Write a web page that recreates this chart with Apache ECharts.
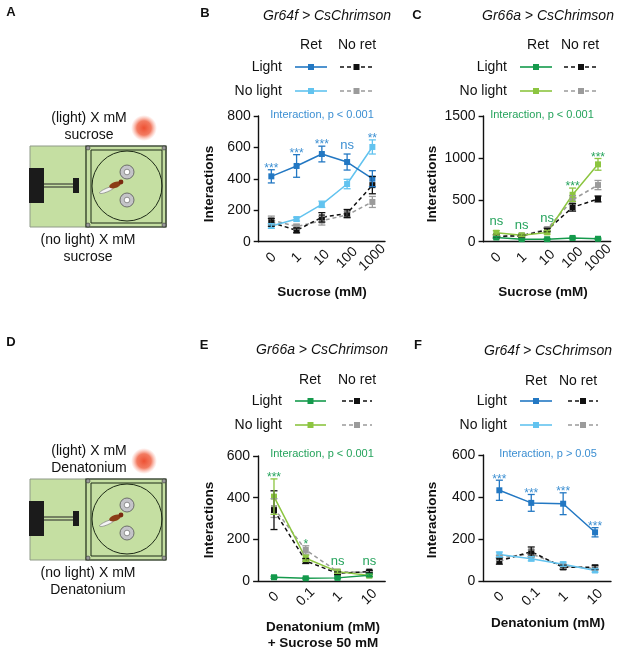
<!DOCTYPE html>
<html lang="en">
<head>
<meta charset="utf-8">
<title>CsChrimson interactions</title>
<script src="https://cdn.jsdelivr.net/npm/echarts@6/dist/echarts.min.js"></script>
<style>
  html, body { margin: 0; padding: 0; background: #fff; }
  #main { width: 617px; height: 653px; }
</style>
</head>
<body>
<div id="main"></div>
<script type="text/javascript">
// categories
var sucroseCats = ['0', '1', '10', '100', '1000'];
var denatCats = ['0', '0.1', '1', '10'];
var yTicksSucroseB = [0, 800, 200];
var yTicksSucroseC = [0, 1500, 500];
var yTicksDenat = [0, 600, 200];

// B: Gr64f > CsChrimson, sucrose
var bRetLight = [416, 482, 558, 507, 401];
var bRetLightErr = [42, 72, 50, 51, 51];
var bRetNoLight = [100, 144, 238, 367, 603];
var bRetNoLightErr = [15, 12, 20, 30, 45];
var bNoRetLight = [123, 72, 155, 180, 360];
var bNoRetLightErr = [25, 15, 30, 25, 55];
var bNoRetNoLight = [138, 96, 134, 170, 253];
var bNoRetNoLightErr = [25, 15, 28, 20, 35];
var bSig = ['***', '***', '***', 'ns', '**'];

// C: Gr66a > CsChrimson, sucrose
var cRetLight = [50, 30, 30, 45, 35];
var cRetLightErr = [10, 8, 8, 10, 8];
var cRetNoLight = [107, 76, 111, 560, 923];
var cRetNoLightErr = [25, 15, 20, 80, 70];
var cNoRetLight = [65, 70, 140, 410, 510];
var cNoRetLightErr = [20, 15, 20, 45, 35];
var cNoRetNoLight = [60, 72, 151, 500, 676];
var cNoRetNoLightErr = [15, 15, 20, 50, 55];
var cSig = ['ns', 'ns', 'ns', '***', '***'];

// E: Gr66a > CsChrimson, denatonium + sucrose
var eRetLight = [18, 13, 15, 28];
var eRetLightErr = [5, 4, 4, 6];
var eRetNoLight = [405, 109, 45, 26];
var eRetNoLightErr = [85, 15, 8, 6];
var eNoRetLight = [340, 96, 37, 45];
var eNoRetLightErr = [93, 12, 6, 6];
var eNoRetNoLight = [350, 149, 45, 40];
var eNoRetNoLightErr = [45, 20, 8, 6];
var eSig = ['***', '*', 'ns', 'ns'];

// F: Gr64f > CsChrimson, denatonium
var fRetLight = [432, 372, 368, 232];
var fRetLightErr = [48, 40, 52, 22];
var fRetNoLight = [126, 106, 80, 50];
var fRetNoLightErr = [12, 10, 10, 8];
var fNoRetLight = [95, 140, 65, 65];
var fNoRetLightErr = [15, 22, 10, 10];
var fNoRetNoLight = [110, 130, 70, 60];
var fNoRetNoLightErr = [12, 18, 10, 8];
var fSig = ['***', '***', '***', '***'];

var FONT = '"Liberation Sans", Arial, Helvetica, sans-serif';
var BLUE = '#2378c3', LBLUE = '#62c3ef', GREEN = '#159a4c', LGREEN = '#8cc540';
var GRAY = '#9b9b9b', BLACK = '#111';
var BLUE_TXT = '#3c8fd2', GREEN_TXT = '#25a35c';

var chart = echarts.init(document.getElementById('main'));

var grids = [
  { left: 258.7, top: 116, width: 126.3, height: 125.7 },
  { left: 483.6, top: 116, width: 127.1, height: 125.7 },
  { left: 258.1, top: 456, width: 127.1, height: 125 },
  { left: 483.4, top: 455, width: 127.6, height: 126 }
];

function xAxisFor(i, cats) {
  return {
    type: 'category', gridIndex: i, data: cats, boundaryGap: true,
    axisLine: { lineStyle: { color: '#111', width: 1.4 } },
    axisTick: { alignWithLabel: true, length: 5, lineStyle: { color: '#111', width: 1.4 } },
    axisLabel: { rotate: 45, fontSize: 14, color: '#111', fontFamily: FONT, margin: 16, interval: 0,
      align: 'center', verticalAlign: 'middle' },
    splitLine: { show: false }
  };
}
function yAxisFor(i, t) {
  return {
    type: 'value', gridIndex: i, min: t[0], max: t[1], interval: t[2],
    axisLine: { show: true, lineStyle: { color: '#111', width: 1.4 } },
    axisTick: { show: true, length: 5, lineStyle: { color: '#111', width: 1.4 } },
    axisLabel: { fontSize: 14, color: '#111', fontFamily: FONT, margin: 8,
      formatter: function (v) { return String(v); } },
    splitLine: { show: false }
  };
}

function errSeries(i, vals, errs, color) {
  return {
    type: 'custom', xAxisIndex: i, yAxisIndex: i, silent: true, z: 3,
    data: vals.map(function (v, k) { return [k, v, errs[k]]; }),
    renderItem: function (params, api) {
      var x = api.value(0), m = api.value(1), e = api.value(2);
      var hi = api.coord([x, m + e]), lo = api.coord([x, Math.max(m - e, 0)]);
      var w = 3.5, st = { stroke: color, lineWidth: 1.3 };
      return { type: 'group', children: [
        { type: 'line', shape: { x1: hi[0], y1: hi[1], x2: lo[0], y2: lo[1] }, style: st },
        { type: 'line', shape: { x1: hi[0] - w, y1: hi[1], x2: hi[0] + w, y2: hi[1] }, style: st },
        { type: 'line', shape: { x1: lo[0] - w, y1: lo[1], x2: lo[0] + w, y2: lo[1] }, style: st }
      ] };
    }
  };
}
function lineSeries(i, vals, color, dashed, z) {
  return {
    type: 'line', xAxisIndex: i, yAxisIndex: i, data: vals, z: z,
    symbol: 'rect', symbolSize: 6, showSymbol: true, silent: true,
    lineStyle: { color: color, width: 1.5, type: dashed ? [4, 3] : 'solid' },
    itemStyle: { color: color }
  };
}
function sigSeries(i, sets, sig, color) {
  var tops = sig.map(function (s, k) {
    return Math.max.apply(null, sets.map(function (d) { return d[0][k] + d[1][k]; }));
  });
  return {
    type: 'custom', xAxisIndex: i, yAxisIndex: i, silent: true, z: 5,
    data: tops.map(function (t, k) { return [k, t]; }),
    renderItem: function (params, api) {
      var p = api.coord([api.value(0), api.value(1)]);
      var s = sig[params.dataIndex];
      var star = s.charAt(0) === '*';
      return { type: 'text', x: p[0], y: p[1] + (star ? -1 : -9),
        style: { text: s, fill: color, font: (star ? '12px ' : '13px ') + FONT,
          textAlign: 'center', textVerticalAlign: 'middle' } };
    }
  };
}

function panel(i, retL, retN, noL, noN, cLight, cNoLight, sig, sigColor) {
  return [
    errSeries(i, noN[0], noN[1], GRAY), lineSeries(i, noN[0], GRAY, true, 2),
    errSeries(i, noL[0], noL[1], BLACK), lineSeries(i, noL[0], BLACK, true, 2),
    errSeries(i, retN[0], retN[1], cNoLight), lineSeries(i, retN[0], cNoLight, false, 2),
    errSeries(i, retL[0], retL[1], cLight), lineSeries(i, retL[0], cLight, false, 2),
    sigSeries(i, [retL, retN, noL, noN], sig, sigColor)
  ];
}

var series = [].concat(
  panel(0, [bRetLight, bRetLightErr], [bRetNoLight, bRetNoLightErr], [bNoRetLight, bNoRetLightErr],
    [bNoRetNoLight, bNoRetNoLightErr], BLUE, LBLUE, bSig, BLUE_TXT),
  panel(1, [cRetLight, cRetLightErr], [cRetNoLight, cRetNoLightErr], [cNoRetLight, cNoRetLightErr],
    [cNoRetNoLight, cNoRetNoLightErr], GREEN, LGREEN, cSig, GREEN_TXT),
  panel(2, [eRetLight, eRetLightErr], [eRetNoLight, eRetNoLightErr], [eNoRetLight, eNoRetLightErr],
    [eNoRetNoLight, eNoRetNoLightErr], GREEN, LGREEN, eSig, GREEN_TXT),
  panel(3, [fRetLight, fRetLightErr], [fRetNoLight, fRetNoLightErr], [fNoRetLight, fNoRetLightErr],
    [fNoRetNoLight, fNoRetNoLightErr], BLUE, LBLUE, fSig, BLUE_TXT)
);

// ---- graphic helpers ----
function txt(x, y, s, font, align, color, rot) {
  return { type: 'text', x: x, y: y, rotation: rot || 0, silent: true,
    style: { text: s, font: font, fill: color || '#111', textAlign: align || 'center', textVerticalAlign: 'middle' } };
}
function legendSample(x1, x2, y, color, dashed) {
  var m = (x1 + x2) / 2;
  return [
    { type: 'line', silent: true, shape: { x1: x1, y1: y, x2: x2, y2: y },
      style: { stroke: color, lineWidth: 1.6, lineDash: dashed ? [4, 3] : null } },
    { type: 'rect', silent: true, shape: { x: m - 3, y: y - 3, width: 6, height: 6 }, style: { fill: color } }
  ];
}
function legendBlock(retX, noRetX, hy, labR, y1, y2, l1, l2, cLight, cNoLight) {
  var f = '14px ' + FONT;
  return [
    txt(retX, hy, 'Ret', f), txt(noRetX, hy, 'No ret', f),
    txt(labR, y1, 'Light', f, 'right'), txt(labR, y2, 'No light', f, 'right')
  ].concat(
    legendSample(l1[0], l1[1], y1, cLight, false), legendSample(l2[0], l2[1], y1, BLACK, true),
    legendSample(l1[0], l1[1], y2, cNoLight, false), legendSample(l2[0], l2[1], y2, GRAY, true)
  );
}

// arena schematic (panels A and D)
function arena(dy, word) {
  var g = [];
  var f = '14px ' + FONT;
  g.push(txt(89, 118 + dy, '(light) X mM', f));
  g.push(txt(89, 135 + dy, word, f));
  g.push(txt(88, 240 + dy, '(no light) X mM', f));
  g.push(txt(88, 257 + dy, word, f));
  g.push({ type: 'circle', silent: true, shape: { cx: 144, cy: 128 + dy, r: 13 },
    style: { fill: new echarts.graphic.RadialGradient(0.5, 0.5, 0.5, [
      { offset: 0, color: 'rgba(238,80,50,1)' }, { offset: 0.55, color: 'rgba(240,100,70,0.85)' },
      { offset: 1, color: 'rgba(250,150,130,0)' }]) } });
  g.push({ type: 'rect', silent: true, shape: { x: 30, y: 146 + dy, width: 136, height: 81 },
    style: { fill: '#c5dfa2', stroke: '#8f9a88', lineWidth: 1 } });
  g.push({ type: 'rect', silent: true, shape: { x: 86, y: 146 + dy, width: 80, height: 81 },
    style: { fill: 'none', stroke: '#1d2a16', lineWidth: 1.2 } });
  g.push({ type: 'rect', silent: true, shape: { x: 91, y: 150 + dy, width: 71, height: 73 },
    style: { fill: 'none', stroke: '#1d2a16', lineWidth: 1 } });
  [[88, 148], [164, 148], [88, 225], [164, 225]].forEach(function (p) {
    g.push({ type: 'circle', silent: true, shape: { cx: p[0], cy: p[1] + dy, r: 2 },
      style: { fill: '#9a9a9a', stroke: '#333', lineWidth: 0.6 } });
  });
  g.push({ type: 'circle', silent: true, shape: { cx: 127, cy: 186 + dy, r: 35 },
    style: { fill: 'none', stroke: '#1d2a16', lineWidth: 1 } });
  g.push({ type: 'rect', silent: true, shape: { x: 29, y: 168 + dy, width: 15, height: 35 }, style: { fill: '#1b1b1b' } });
  g.push({ type: 'line', silent: true, shape: { x1: 44, y1: 184 + dy, x2: 74, y2: 184 + dy }, style: { stroke: '#222', lineWidth: 1 } });
  g.push({ type: 'line', silent: true, shape: { x1: 44, y1: 187 + dy, x2: 74, y2: 187 + dy }, style: { stroke: '#222', lineWidth: 1 } });
  g.push({ type: 'rect', silent: true, shape: { x: 73, y: 178 + dy, width: 6, height: 15 }, style: { fill: '#1b1b1b' } });
  [172, 200].forEach(function (cy) {
    g.push({ type: 'circle', silent: true, shape: { cx: 127, cy: cy + dy, r: 7 },
      style: { fill: '#c4c4c8', stroke: '#555', lineWidth: 0.8 } });
    g.push({ type: 'circle', silent: true, shape: { cx: 127, cy: cy + dy, r: 2.8 },
      style: { fill: '#fff', stroke: '#555', lineWidth: 0.6 } });
  });
  // fly
  g.push({ type: 'ellipse', silent: true, x: 107, y: 190 + dy, rotation: 0.4,
    shape: { cx: 0, cy: 0, rx: 8, ry: 1.8 }, style: { fill: '#f4f4f4', stroke: '#777', lineWidth: 0.6 } });
  g.push({ type: 'ellipse', silent: true, x: 115, y: 185 + dy, rotation: 0.35,
    shape: { cx: 0, cy: 0, rx: 6, ry: 3 }, style: { fill: '#8b3c17' } });
  g.push({ type: 'circle', silent: true, shape: { cx: 121, cy: 182 + dy, r: 2.4 }, style: { fill: '#7a2a10' } });
  return g;
}

var B = 'bold 13px ' + FONT;
var titleF = 'italic 14px ' + FONT;
var axF = 'bold 13.5px ' + FONT;
var intF = '11px ' + FONT;

var graphics = [].concat(
  [txt(11, 12, 'A', B), txt(205, 13, 'B', B), txt(417, 15, 'C', B),
   txt(11, 342, 'D', B), txt(204, 345, 'E', B), txt(418, 345, 'F', B)],
  arena(0, 'sucrose'), arena(333, 'Denatonium'),
  // B
  [txt(327, 16, 'Gr64f > CsChrimson', titleF)],
  legendBlock(311, 357, 45, 282, 67, 91, [295, 327], [340, 373], BLUE, LBLUE),
  [txt(322, 115, 'Interaction, p < 0.001', intF, 'center', BLUE_TXT),
   txt(209, 184, 'Interactions', axF, 'center', '#111', Math.PI / 2),
   txt(322, 292, 'Sucrose (mM)', axF)],
  // C
  [txt(548, 16, 'Gr66a > CsChrimson', titleF)],
  legendBlock(538, 580, 45, 507, 67, 91, [520, 552], [564, 598], GREEN, LGREEN),
  [txt(542, 115, 'Interaction, p < 0.001', intF, 'center', GREEN_TXT),
   txt(432, 184, 'Interactions', axF, 'center', '#111', Math.PI / 2),
   txt(543, 292, 'Sucrose (mM)', axF)],
  // E
  [txt(322, 350, 'Gr66a > CsChrimson', titleF)],
  legendBlock(310, 357, 380, 282, 401, 425, [295, 326], [342, 372], GREEN, LGREEN),
  [txt(322, 454, 'Interaction, p < 0.001', intF, 'center', GREEN_TXT),
   txt(209, 520, 'Interactions', axF, 'center', '#111', Math.PI / 2),
   txt(323, 627, 'Denatonium (mM)', axF), txt(323, 643, '+ Sucrose 50 mM', axF)],
  // F
  [txt(548, 351, 'Gr64f > CsChrimson', titleF)],
  legendBlock(536, 578, 381, 507, 401, 425, [520, 552], [568, 598], BLUE, LBLUE),
  [txt(548, 454, 'Interaction, p > 0.05', intF, 'center', BLUE_TXT),
   txt(432, 520, 'Interactions', axF, 'center', '#111', Math.PI / 2),
   txt(548, 623, 'Denatonium (mM)', axF)]
);

var option = {
  animation: false,
  backgroundColor: '#fff',
  textStyle: { fontFamily: FONT },
  grid: grids,
  xAxis: [xAxisFor(0, sucroseCats), xAxisFor(1, sucroseCats), xAxisFor(2, denatCats), xAxisFor(3, denatCats)],
  yAxis: [yAxisFor(0, yTicksSucroseB), yAxisFor(1, yTicksSucroseC), yAxisFor(2, yTicksDenat), yAxisFor(3, yTicksDenat)],
  series: series,
  graphic: { elements: graphics }
};
chart.setOption(option);
</script>
</body>
</html>
